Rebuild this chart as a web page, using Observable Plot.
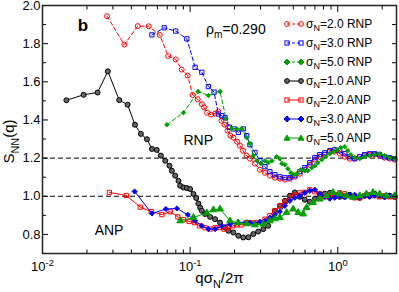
<!DOCTYPE html>
<html><head><meta charset="utf-8">
<script src="https://cdn.jsdelivr.net/npm/d3@7"></script>
<script src="https://cdn.jsdelivr.net/npm/@observablehq/plot@0.6"></script>
<style>
body{margin:0;background:#fff;}
#wrap{position:relative;width:399px;height:292px;font-family:"Liberation Sans",Arial,sans-serif;color:#000;}
#legend{position:absolute;left:282px;top:14px;font-size:12px;}
.row{display:flex;align-items:center;height:19px;white-space:nowrap;}
.row svg{width:22px;height:10px;margin-right:2px;flex:none;}
.row sub{font-size:0.75em;vertical-align:-0.3em;line-height:0;}
</style></head><body><div id="wrap"></div>
<script>
// ---- tick definitions ----
const xMajorTicks = [0.01, 0.1, 1];
const xMajorLabels = ["10^{-2}", "10^{-1}", "10^{0}"];
const xMinorTicks = [0.02,0.03,0.04,0.05,0.06,0.07,0.08,0.09,0.2,0.3,0.4,0.5,0.6,0.7,0.8,0.9,2];
const yMajorTicks = [0.8, 1.0, 1.2, 1.4, 1.6, 1.8, 2.0];
const yMajorLabels = ["0.8", "1.0", "1.2", "1.4", "1.6", "1.8", "2.0"];
const yMinorTicks = [0.7, 0.9, 1.1, 1.3, 1.5, 1.7, 1.9];
const refLines = [1.0, 1.2];

// ---- series names ----
const seriesNames = ["σ_{N}=2.0 RNP","σ_{N}=3.0 RNP","σ_{N}=5.0 RNP","σ_{N}=1.0 ANP","σ_{N}=2.0 ANP","σ_{N}=3.0 ANP","σ_{N}=5.0 ANP"];

// ---- data: q sigma_N / 2pi and S_NN(q) ----
const rnp2Q = [0.02736,0.03581,0.04418,0.05244,0.06221,0.07103,0.07980,0.08763,0.09618,0.1040,0.1124,0.1200,0.1244,0.1303,0.1387,0.1475,0.1553,0.1632,0.1710,0.1792,0.1877,0.1967,0.2078,0.2177,0.2281,0.2409,
  0.2543,0.2749,0.2972,0.3212,0.3472,0.3752,0.4056,0.4384,0.4739,0.5122,0.5536,0.5984,0.6468,0.6991,0.7556,0.8167,0.8829,0.9543,1.032,1.115,1.205,1.303,1.408,1.522,1.645,1.778,1.922,2.078,2.246,2.427];
const rnp2S = [1.944,1.795,1.892,1.891,1.846,1.735,1.717,1.664,1.633,1.531,1.509,1.483,1.465,1.438,1.428,1.433,1.444,1.396,1.375,1.344,1.318,1.307,1.286,1.265,1.239,1.213,
  1.197,1.171,1.139,1.123,1.108,1.097,1.092,1.087,1.092,1.102,1.118,1.139,1.165,1.192,1.207,1.218,1.234,1.234,1.223,1.207,1.197,1.197,1.207,1.213,1.218,1.218,1.213,1.202,1.197,1.192];

const rnp3Q = [0.05509,0.06673,0.07980,0.09499,0.1081,0.1200,0.1329,0.1453,0.1553,0.1637,0.1724,0.1843,0.1962,0.2120,0.2291,0.2416,
  0.2543,0.2749,0.2972,0.3212,0.3472,0.3752,0.4056,0.4384,0.4739,0.5122,0.5536,0.5984,0.6468,0.6991,0.7556,0.8167,0.8829,0.9543,1.032,1.115,1.205,1.303,1.408,1.522,1.645,1.778,1.922,2.078,2.246,2.427];
const rnp3S = [1.846,1.883,1.866,1.825,1.676,1.650,1.575,1.546,1.431,1.423,1.412,1.362,1.353,1.335,1.353,1.318,
  1.270,1.230,1.186,1.155,1.129,1.113,1.102,1.097,1.097,1.108,1.129,1.150,1.176,1.202,1.218,1.228,1.239,1.244,1.239,1.223,1.207,1.197,1.207,1.218,1.223,1.223,1.218,1.207,1.202,1.197];

const rnp5Q = [0.0696,0.0901,0.1132,0.1329,0.1595,0.1751,0.1913,0.2068,0.2235,0.2416,0.2543,0.2677,0.2836,0.3018,0.3212,0.3381,0.3581,0.3853,0.4056,0.4183,0.4384,0.4594,0.4813,0.5043,0.5284,0.5623,0.5984,0.6270,0.6672,0.6991,0.7324,0.7796,0.8297,0.8829,0.9397,0.9845,1.048,1.115,1.169,1.224,1.303,1.408,1.522,1.645,1.778,1.922,2.078,2.246,2.427];
const rnp5S = [1.375,1.438,1.549,1.528,1.549,1.407,1.354,1.354,1.354,1.307,1.276,1.213,1.186,1.171,1.186,1.176,1.186,1.207,1.197,1.171,1.165,1.144,1.123,1.113,1.118,1.139,1.134,1.134,1.150,1.160,1.176,1.192,1.207,1.223,1.234,1.244,1.255,1.260,1.239,1.218,1.202,1.197,1.207,1.213,1.218,1.223,1.213,1.202,1.197];

const anp1Q = [0.01452,0.0190,0.0236,0.0277,0.0331,0.0377,0.0423,0.0464,0.0510,0.0551,0.0594,0.0634,0.0678,0.0725,0.0752,0.0792,0.0834,0.0856,0.0902,0.0950,
  0.1000,0.1053,0.1099,0.1138,0.1169,0.1200,0.1262,0.1365,0.1476,0.1595,0.1723,0.1815,0.1962,0.212,0.229,0.248,0.268,0.289,0.313,0.338,
  0.358,0.375,0.406,0.439,0.474,0.512,0.553,0.598,0.647,0.700,0.756,0.817,0.883,0.955,1.032,1.115,1.205,1.303,1.408,1.521,1.644,1.778,1.921,2.076,2.244,2.426];
const anp1S = [1.503,1.532,1.544,1.655,1.504,1.480,1.375,1.327,1.299,1.248,1.243,1.213,1.186,1.160,1.134,1.108,1.081,1.055,1.046,1.043,
  1.038,1.012,0.991,0.962,0.941,0.924,0.907,0.892,0.880,0.862,0.836,0.819,0.810,0.793,0.784,0.785,0.802,0.815,0.828,0.845,
  0.882,0.924,0.950,0.976,1.003,1.020,0.997,0.982,0.971,0.987,1.008,1.013,1.018,1.008,0.997,0.997,1.008,0.997,0.992,1.003,1.003,1.013,1.003,0.997,1.003,0.997];

const anp2Q = [0.02836,0.03695,0.04595,0.05450,0.06438,0.0733,0.08258,0.0901,0.09845,0.1069,0.1156,0.1263,0.1365,0.1475,0.1595,0.1697,0.1815,0.1952,0.2078,0.2211,0.2390,
  0.2543,0.2749,0.2972,0.3212,0.3472,0.3752,0.4056,0.4384,0.4739,0.5122,0.5536,0.5984,0.6468,0.6991,0.7556,0.8167,0.8829,0.9543,1.032,1.115,1.205,1.303,1.408,1.522,1.645,1.778,1.922,2.078,2.246,2.427];
const anp2S = [1.020,1.004,0.943,0.920,0.904,0.919,0.892,0.877,0.868,0.862,0.845,0.835,0.828,0.835,0.836,0.828,0.836,0.845,0.850,0.850,0.861,
  0.861,0.861,0.863,0.880,0.898,0.924,0.950,0.971,0.992,1.008,1.018,1.021,1.034,1.024,1.013,0.997,1.003,1.008,1.018,1.013,1.003,0.992,0.992,1.003,1.008,1.003,0.997,1.003,0.997,0.997];

const anp3Q = [0.04204,0.05509,0.06852,0.08130,0.09649,0.1081,0.1200,0.1329,0.1475,0.1637,0.1863,0.2120,0.2416,
  0.2543,0.2749,0.2972,0.3212,0.3472,0.3752,0.4056,0.4384,0.4739,0.5122,0.5536,0.5984,0.6468,0.6991,0.7556,0.8167,0.8829,0.9543,1.032,1.115,1.205,1.303,1.408,1.522,1.645,1.778,1.922,2.078,2.246,2.427];
const anp3S = [1.025,0.910,0.933,0.936,0.903,0.871,0.845,0.828,0.828,0.845,0.854,0.863,0.863,
  0.861,0.858,0.866,0.871,0.887,0.903,0.919,0.950,0.976,0.992,1.003,1.018,1.029,1.034,1.013,0.997,0.987,0.992,1.003,0.997,1.008,1.008,0.997,1.003,0.997,1.003,1.008,0.997,1.003,1.003];

const anp5Q = [0.0856,0.1053,0.1297,0.1437,0.1595,0.1863,0.2110,0.2416,0.2749,0.3129,0.3472,0.3752,0.4056,0.4501,0.4989,0.5393,0.5827,0.6145,0.6808,0.7556,0.8388,0.9293,1.0316,1.145,1.269,1.408,1.563,1.732,1.922,2.134,2.427];
const anp5S = [0.871,0.889,0.913,0.929,0.933,0.871,0.861,0.856,0.850,0.854,0.871,0.882,0.889,0.915,0.933,0.915,0.907,0.941,0.967,0.985,1.003,1.020,1.012,1.003,0.994,1.003,1.012,1.020,1.012,1.003,1.003];

// ---- annotations ----
const annotations = [
  {q: 0.01878, s: 1.895, text: "b", size: 17, weight: "bold", anchor: "middle"},
  {q: 0.1283, s: 1.875, text: "ρ_{m}=0.290", size: 14, weight: "normal", anchor: "start"},
  {q: 0.0901, s: 1.292, text: "RNP", size: 14, weight: "normal", anchor: "start"},
  {q: 0.02256, s: 0.821, text: "ANP", size: 14, weight: "normal", anchor: "start"}
];
const xLabel = "qσ_{N}/2π";
const yLabel = "S_{NN}(q)";

// ---- styling ----
const RED = "#ff0000", BLUE = "#0000ff", GREEN = "#00a000";
const series = [
  {name: seriesNames[0], q: rnp2Q, s: rnp2S, color: RED, symbol: "circle", fill: "none", r: 2.5, dash: "4,2.5"},
  {name: seriesNames[1], q: rnp3Q, s: rnp3S, color: BLUE, symbol: "square", fill: "none", r: 2.4, dash: "4,2.5"},
  {name: seriesNames[2], q: rnp5Q, s: rnp5S, color: GREEN, symbol: "diamond2", fill: GREEN, r: 2.0, dash: "4,2.5"},
  {name: seriesNames[3], q: anp1Q, s: anp1S, color: "#000", symbol: "circle", fill: "#666", r: 2.5, dash: null},
  {name: seriesNames[4], q: anp2Q, s: anp2S, color: RED, symbol: "square", fill: "none", r: 2.4, dash: null},
  {name: seriesNames[5], q: anp3Q, s: anp3S, color: BLUE, symbol: "diamond2", fill: BLUE, r: 2.3, dash: null},
  {name: seriesNames[6], q: anp5Q, s: anp5S, color: GREEN, symbol: "triangle", fill: GREEN, r: 2.5, dash: null}
];

const xLabMap = new Map(xMajorTicks.map((d, i) => [d, xMajorLabels[i]]));
const yLabMap = new Map(yMajorTicks.map((d, i) => [d, yMajorLabels[i]]));

const marks = [
  Plot.ruleY(refLines, {stroke: "#000", strokeDasharray: "5,3", strokeWidth: 1})
];
for (const sr of series) {
  const n = Math.min(sr.q.length, sr.s.length);
  const data = d3.range(n).map(i => ({q: sr.q[i], s: sr.s[i]}));
  marks.push(Plot.line(data, {x: "q", y: "s", stroke: sr.color, strokeWidth: 1, strokeDasharray: sr.dash}));
  marks.push(Plot.dot(data, {x: "q", y: "s", symbol: sr.symbol, r: sr.r, stroke: sr.color, fill: sr.fill, strokeWidth: 1}));
}
for (const a of annotations) {
  marks.push(Plot.text([a], {x: "q", y: "s", text: "text", fontSize: a.size, fontWeight: a.weight, textAnchor: a.anchor, fill: "#000"}));
}
marks.push(
  Plot.text([xLabel], {frameAnchor: "bottom", lineAnchor: "middle", textAnchor: "middle", dy: 25, text: d => d, fontSize: 15, fill: "#000"}),
  Plot.text([yLabel], {frameAnchor: "left", lineAnchor: "middle", textAnchor: "middle", dx: -33, dy: 12, rotate: -90, text: d => d, fontSize: 15, fill: "#000"}),
  Plot.axisX(xMajorTicks, {anchor: "bottom", tickSize: -6, tickPadding: 14, tickFormat: d => xLabMap.get(d), label: null, fontSize: 13}),
  Plot.axisX(xMinorTicks, {anchor: "bottom", tickSize: -3.5, tickFormat: () => "", label: null}),
  Plot.axisX(xMajorTicks, {anchor: "top", tickSize: -6, tickFormat: () => "", label: null}),
  Plot.axisX(xMinorTicks, {anchor: "top", tickSize: -3.5, tickFormat: () => "", label: null}),
  Plot.axisY(yMajorTicks, {anchor: "left", tickSize: -6, tickPadding: 8, tickFormat: d => yLabMap.get(d), label: null, fontSize: 13}),
  Plot.axisY(yMinorTicks, {anchor: "left", tickSize: -4, tickFormat: () => "", label: null}),
  Plot.axisY(yMajorTicks, {anchor: "right", tickSize: -5, tickFormat: () => "", label: null}),
  Plot.axisY(yMinorTicks, {anchor: "right", tickSize: -5, tickFormat: () => "", label: null}),
  Plot.frame({stroke: "#222", strokeWidth: 1.5})
);

const chart = Plot.plot({
  width: 399, height: 292,
  marginLeft: 42, marginRight: 3, marginTop: 5, marginBottom: 39,
  x: {type: "log", domain: [0.01, 2.5]},
  y: {domain: [0.7, 2.0]},
  style: {fontFamily: "'Liberation Sans', Arial, sans-serif", fontSize: "13px", color: "#000", background: "#fff", overflow: "visible"},
  marks
});
const wrap = document.getElementById("wrap");
wrap.appendChild(chart);

// rich text: _{..} subscripts and ^{..} superscripts
function richify(root) {
  const ns = "http://www.w3.org/2000/svg";
  root.querySelectorAll("text").forEach(el => {
    const s = el.textContent;
    if (!/[_^]\{/.test(s)) return;
    const fs = parseFloat(getComputedStyle(el).fontSize) || 13;
    while (el.firstChild) el.removeChild(el.firstChild);
    const re = /([_^])\{([^}]*)\}/g;
    let last = 0, m, cur = 0;
    const add = (txt, shift, small) => {
      const t = document.createElementNS(ns, "tspan");
      t.textContent = txt;
      const d = shift - cur;
      if (d) t.setAttribute("dy", d.toFixed(2));
      cur = shift;
      if (small) t.setAttribute("font-size", (fs * 0.72).toFixed(2));
      el.appendChild(t);
    };
    while ((m = re.exec(s))) {
      if (m.index > last) add(s.slice(last, m.index), 0, false);
      add(m[2], m[1] === "_" ? fs * 0.28 : -fs * 0.38, true);
      last = re.lastIndex;
    }
    if (last < s.length) add(s.slice(last), 0, false);
  });
}
richify(chart);

// legend (HTML overlay)
function markerSvg(sr, cx) {
  const c = sr.color, f = sr.fill;
  if (sr.symbol === "circle") return `<circle cx="${cx}" cy="5" r="2.4" fill="${f}" stroke="${c}"/>`;
  if (sr.symbol === "square") return `<rect x="${cx-2.1}" y="2.9" width="4.2" height="4.2" fill="${f}" stroke="${c}"/>`;
  if (sr.symbol === "diamond2") return `<path d="M${cx},2 L${cx+3},5 L${cx},8 L${cx-3},5 Z" fill="${f}" stroke="${c}"/>`;
  return `<path d="M${cx},2 L${cx+3},7.2 L${cx-3},7.2 Z" fill="${f}" stroke="${c}"/>`;
}
const legend = document.createElement("div");
legend.id = "legend";
for (const sr of series) {
  const row = document.createElement("div");
  row.className = "row";
  const dash = sr.dash ? `stroke-dasharray="3,2"` : "";
  row.innerHTML = `<svg viewBox="0 0 22 10"><line x1="5" y1="5" x2="19" y2="5" stroke="${sr.color}" stroke-width="1" ${dash}/>${markerSvg(sr, 5)}${markerSvg(sr, 19)}</svg>` +
    `<span>${sr.name.replace(/_\{([^}]*)\}/g, "<sub>$1</sub>")}</span>`;
  legend.appendChild(row);
}
wrap.appendChild(legend);
</script></body></html>
